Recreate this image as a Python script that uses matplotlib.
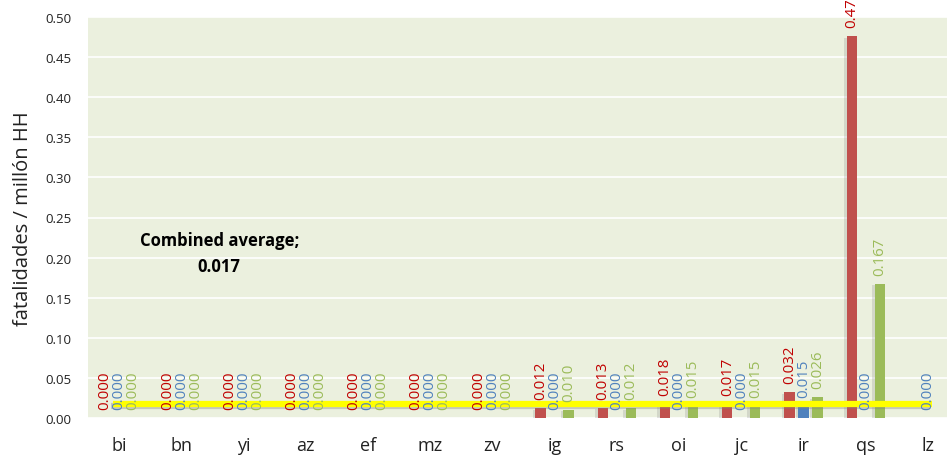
import matplotlib
matplotlib.use("Agg")
import matplotlib.pyplot as plt
import matplotlib.patheffects as pe
import numpy as np

categories = ["bi", "bn", "yi", "az", "ef", "mz", "zv", "ig", "rs", "oi", "jc", "ir", "qs", "lz"]
series_red = [0.000, 0.000, 0.000, 0.000, 0.000, 0.000, 0.000, 0.012, 0.013, 0.018, 0.017, 0.032, 0.476, None]
series_blue = [0.000, 0.000, 0.000, 0.000, 0.000, 0.000, 0.000, 0.000, 0.000, 0.000, 0.000, 0.015, 0.000, 0.000]
series_green = [0.000, 0.000, 0.000, 0.000, 0.000, 0.000, 0.000, 0.010, 0.012, 0.015, 0.015, 0.026, 0.167, None]
combined_average = 0.017
yticks = [0.00, 0.05, 0.10, 0.15, 0.20, 0.25, 0.30, 0.35, 0.40, 0.45, 0.50]

plt.rcParams['font.family'] = ['Open Sans', 'DejaVu Sans']

fig = plt.figure(figsize=(9.47, 4.60), dpi=100)
ax = fig.add_axes([88/947, 41/460, (947-88)/947, 401/460])
ax.set_facecolor("#EBF0DE")

x = np.arange(len(categories))
off = 0.225
w = 0.165
shadow = [pe.SimplePatchShadow(offset=(-2, -1), shadow_rgbFace="#7f7f7f", alpha=0.22), pe.Normal()]

specs = [
    (series_red, -off, "#C0504D", "#C00000"),
    (series_blue, 0.0, "#4F81BD", "#4F81BD"),
    (series_green, off, "#9BBB59", "#9BBB59"),
]
for vals, dx, col, tcol in specs:
    v = np.array([np.nan if a is None else a for a in vals], dtype=float)
    bars = ax.bar(x + dx, v, width=w, color=col, zorder=3)
    for b in bars:
        b.set_path_effects(shadow)
    for xi, vi in zip(x, v):
        if np.isnan(vi):
            continue
        ax.annotate(f"{vi:.3f}", (xi + dx, vi), xytext=(0, 6.5), textcoords="offset points",
                    rotation=90, ha="center", va="bottom", color=tcol, fontsize=10.8,
                    zorder=6, annotation_clip=False)

avg = [combined_average] * len(categories)
ax.plot(np.array([x[0] - 0.1] + list(x[1:-1]) + [x[-1] + 0.07]), avg, color="#FFFF00", lw=4.5, zorder=5,
        solid_capstyle="butt",
        path_effects=[pe.SimpleLineShadow(offset=(-1.5, -1.5), shadow_color="#7f7f7f", alpha=0.35), pe.Normal()])

ax.text(1.61, 0.206, "Combined average;\n0.017", ha="center", va="center",
        fontsize=12, fontweight="bold", color="black", linespacing=1.6, zorder=6)

ax.set_ylim(0, 0.5)
ax.set_xlim(-0.5, 13.5 - 12/62)
ax.set_yticks(yticks)
ax.set_yticklabels([f"{t:.2f}" for t in yticks], fontsize=9.5, color="#222222")
ax.set_xticks(x)
ax.set_xticklabels(categories, fontsize=13, color="#222222")
ax.tick_params(axis="x", length=0, pad=13)
ax.tick_params(axis="y", length=0, pad=11.7)
ax.yaxis.grid(True, color="white", lw=1.2, zorder=0)
ax.set_axisbelow(True)
for s in ax.spines.values():
    s.set_visible(False)
ax.set_ylabel("fatalidades / millón HH", fontsize=14.5, color="#222222", labelpad=9)

fig.savefig("out.png", dpi=100)
